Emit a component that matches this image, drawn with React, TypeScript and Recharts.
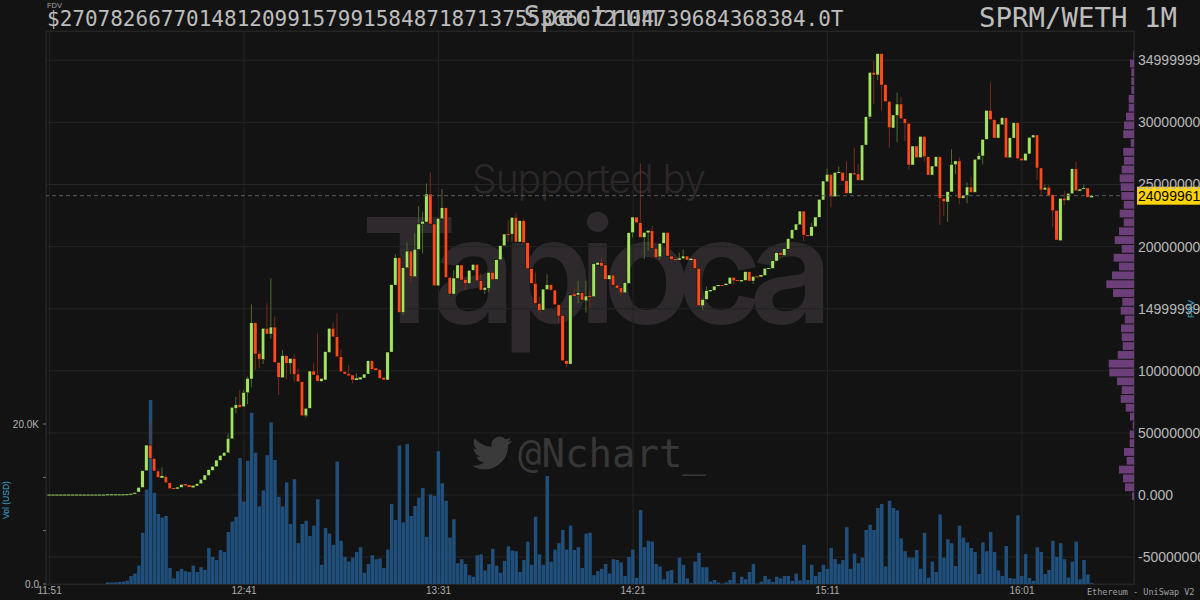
import React from "react";
import { ComposedChart, BarChart, Bar, XAxis, YAxis, CartesianGrid, ReferenceLine } from "recharts";

const W = 1200;
const H = 600;
const BG = "#131313";
const UP = "#a3e263";
const DOWN = "#fb4a1e";

// Candles, in units where the axis tick "34999999…" is 350.
const opens = [
  0.1,0.1,0.1,0.1,0.1,0.1,0.1,0.1,0.1,0.1,
  0.1,0.1,0.1,0.1,0.1,0.2,0.2,0.2,0.2,0.2,
  0.3,0.6,1.0,2.4,6.1,19.6,40.2,29.5,19.3,13.9,
  14.7,9.9,5.6,5.1,6.1,8.8,8.0,6.1,7.2,9.1,
  12.0,15.8,19.8,22.8,27.9,31.4,34.0,45.3,69.8,72.7,
  71.1,82.4,93.4,138.7,114,109.2,134.2,129.6,135.2,106.8,
  94.4,112.2,106,110,97.4,91.2,63.8,69.8,99.8,96.6,
  91.5,92.6,114.8,134.2,127.4,111.3,99.3,97.4,96.6,92.6,
  93.1,94.2,97.4,108.1,102,101.1,94.7,92.6,115.1,169,
  191.1,147,183,196.4,175.8,197.8,218.2,219.8,242.3,218.2,
  168.5,222.5,231.3,175.2,161.8,174.4,185.2,173.6,170.4,180.9,
  185.7,172.5,165,166.4,179.3,173.6,189.4,200.7,210.1,210.1,
  223.5,203.7,220.9,203.1,182.2,170.4,154.3,148.9,165.5,169.3,
  165,153.2,144.6,108.1,105.4,161.5,161,162.9,156.4,160.2,
  159.7,185.2,187.3,185.2,173.6,177.1,169,166.9,162.9,170.4,
  211.2,223.8,219.2,207.4,211.4,212.8,198.6,191.9,202.6,211.4,
  192.4,190,189.4,190.3,192.4,189.2,190.3,182.5,152.4,157.5,
  164,164.8,168.2,169,169,169.9,175.2,173,172,172.8,
  179.8,172.3,176,175.8,176.8,182.2,182.5,188.4,195.1,192.9,
  198,206.4,213.3,217.6,228.6,209.3,208.5,216,223.6,237.5,
  252.3,258.2,240.2,259.5,259.8,253.1,242.9,259,258.5,253.4,
  281.8,304.4,340.3,338.2,355.4,330.4,317,295.5,305.7,314.8,
  303,299.3,265.7,281,271.6,288.8,272.4,257.6,264.4,272.4,
  238.9,235.9,244,266,269,238.9,241.3,248,243.7,270,
  273,286.4,309.7,302.2,287.4,298.2,303.8,271.6,287.4,299.8,
  271.1,269.2,274.6,287.7,289.9,263.3,245.6,247.7,241.8,229.2,
  204.8,238.9,237.3,242.6,262.7,245,246.6,247.2,239.7,
];

const closes = [
  0.3,0.3,0.3,0.3,0.3,0.3,0.3,0.3,0.3,0.3,
  0.3,0.3,0.3,0.3,0.3,0.5,0.5,0.5,0.5,0.5,
  0.6,1.0,1.8,6.1,19.6,40.2,29.5,19.3,14.2,15.3,
  9.9,5.1,5.1,6.1,8.5,7.7,6.4,7.5,9.1,12.6,
  16.1,20.4,23.1,28.1,31.9,34.3,45.6,70.6,72.7,70.6,
  82.6,93.9,138.7,113.5,109.2,134.2,129.6,135.2,106.8,94.7,
  112.2,106,110,97.1,91.2,63.8,69.8,99.8,96.6,91.7,
  93.9,115.4,134.2,127.4,111.3,99.3,97.4,96.3,92.6,93.9,
  94.7,97.4,108.1,101.1,100.6,93.9,92.6,115.1,169.3,191.1,
  147,183,196.4,175.8,197.8,218.2,220.3,242.3,218.2,168.5,
  222.7,231.3,175.2,161.8,174.7,185.2,173.1,170.4,180.9,185.7,
  172.5,165,167.2,179.3,173.3,189.4,200.7,210.1,209.6,223.5,
  203.7,220.9,203.1,182.2,170.4,154.3,148.4,165.8,169.3,165,
  153.2,144.1,108.1,105.4,161,160.2,162.9,157,160.2,159.7,
  186.2,187.3,184.3,173.6,177.1,169,166.4,162.9,170.9,211.2,
  223.8,219.2,207.4,211.4,212.8,198.6,191.3,202.6,211.4,192.4,
  189.7,189.4,190.5,192.4,189.2,190.3,182.5,152.4,157.5,164.5,
  165,168.2,169,168.5,170.1,175.2,172.5,172.5,173,179.8,
  172.3,176,175.5,177.1,182.5,182.7,188.6,195.1,193.2,198.3,
  206.4,213.6,218.2,228.6,209.3,208.5,216,223.8,238.1,252.8,
  258.2,240.2,259.8,260.1,252.8,242.9,259.3,258.2,253.4,281.8,
  304.6,340.3,338.2,355.4,330.1,316.7,295.8,306,314.8,303,
  299.3,265.7,281,271.6,288.8,272.4,257.6,264.9,272.4,238.9,
  236.2,244.2,266.2,269,238.9,241.5,248,243.7,270.3,273.2,
  286.4,309.7,302.2,287.4,298.7,303.8,271.6,287.7,299.8,270.8,
  269.2,275.1,288,289.9,263.3,245.6,247.7,241.3,228.9,205.3,
  238.9,237,242.9,262.7,245,246.1,247.2,239.7,241,
];

// Wicks that reach past the body, by candle number.
const upperWicks: Record<number, number> = {
  26:59,28:20.6,29:22.2,30:16.1,46:49.6,48:79.1,49:84.5,50:84.5,51:95.2,52:153.5,54:116.2,56:154.3,57:174.4,58:143.6,60:116.7,63:113.5,64:102,
  68:106.5,69:130.1,73:138.7,74:146.2,75:117.2,77:104.6,79:97.9,89:193.7,92:203.4,94:210.7,95:232.7,96:228.1,97:250.9,98:259.5,101:246.3,104:181.1,111:178.4,114:180.6,118:221.4,120:226.8,122:222.7,125:179,126:159.7,128:177.6,
  135:167.2,136:172.5,138:172.5,139:164.2,142:191.1,152:267,155:216.6,162:195.1,163:197.8,169:167.7,196:219.2,
  200:263,203:264.4,205:268.4,207:279.7,208:266.5,212:349.4,218:324,219:320.7,232:278.3,234:271.9,236:251.5,237:256.3,239:275.6,242:332,256:250.1,257:249.6,261:244.8,264:268.4,266:250.1,
};
const lowerWicks: Record<number, number> = {
  48:65.7,51:73.2,52:86.7,53:100.6,54:102,55:105.4,57:125.8,59:80.5,61:93.1,62:97.4,63:91.2,66:62.5,
  78:89.9,91:144.9,93:170.9,96:194.6,107:165,112:161.8,113:163.7,118:203.9,119:203.9,126:146.2,131:138.2,133:102.8,
  136:154.3,138:146.8,139:150.3,147:159.7,150:207.4,153:190,154:196.7,157:189.7,168:148.9,176:169.9,181:169.9,194:204.5,
  201:231.6,211:302.7,212:314.8,213:334.1,214:309.5,216:279.7,218:284,220:285,221:262.2,225:268.4,229:217.4,230:224.6,231:220,233:258.5,234:234.3,236:234.8,240:266.2,254:253.6,255:241.5,258:216,261:233.5,
};

// Volume in thousands of USD.
const volumes = [
  0,0,0,0,0,0,0,0,0,0,
  0,0,0,0,0,0.2,0.2,0.2,0.25,0.3,
  0.4,1.0,1.3,2.3,6.4,11.8,23,11.4,8.75,8.3,
  8.5,2.0,0.7,1.6,1.9,1.6,1.5,2.3,1.5,2.1,
  1.75,4.5,3.4,3.0,4.25,4.0,6.5,7.8,8.4,15.75,
  10.3,15.4,21.4,16.4,9.7,11.7,16.1,20.2,15.5,10.9,
  9.7,12.7,7.5,13.1,5.1,7.5,7.9,6.0,7.3,10.6,
  2.4,7.0,6.3,4.9,15.3,5.4,3.4,2.8,3.3,4.0,
  4.6,1.4,2.5,3.6,3.1,3.2,2.0,4.3,10,8.0,
  17.3,7.7,17.5,8.5,9.75,10.8,12,5.9,11.2,11,
  16.6,12.6,10.4,5.8,8.1,2.6,3.1,2.5,1.1,0.9,
  3.6,3.7,1.7,2.5,4.4,2.3,1.4,2.9,4.7,4.2,
  4.1,1.5,3.0,5.3,2.4,8.4,3.7,2.4,13.5,2.8,
  4.3,5.1,6.75,4.3,7.3,4.25,4.6,2.0,6.3,6.4,
  1.1,1.6,1.9,2.5,1.3,3.1,3.0,2.7,1.0,3.4,
  4.3,0.75,9.25,4.6,5.4,5.3,2.5,2.2,0.6,1.6,
  1.75,0.1,3.3,2.4,0.7,0.1,2.8,3.9,2.1,2.1,
  0.3,0.5,0.2,0.05,0.2,0.5,1.5,0.05,0.9,0.6,
  1.5,2.5,0.05,0.3,1,0.6,0.25,0.9,0.7,1.0,
  1.0,0.4,1.3,0.45,4.9,0.5,2.4,1.0,1.5,2.4,
  1.9,4.5,3.1,2.5,3.0,7.1,1.9,3.8,2.6,3.3,
  6.75,7.4,6.75,9.5,10,2.2,10.4,9.5,9.2,5.7,
  4.1,3.3,3.3,4.25,1.9,6.4,0.8,2.8,1.5,8.7,
  3.3,5.6,5.1,2.25,7.3,5.8,5.2,4.5,4,1.25,
  5.2,4.1,6.5,4,1.7,1.0,4.75,0.75,0.67,8.6,
  1,3.75,0.75,0.4,4.6,4,1.25,1.75,5.4,3.4,
  5.1,3.1,0.8,2.8,5.3,0.6,3,1.2,0.1,
];

// Volume profile: price level of each bin and the traded amount in it, lowest bin first.
const profilePrices = [
  -0.6,6.5,13.7,20.8,27.9,35,42.1,49.2,56.3,63.4,
  70.5,77.6,84.8,91.9,99,106.1,113.2,120.3,127.4,134.5,
  141.6,148.7,155.9,163,170.1,177.2,184.3,191.4,198.5,205.6,
  212.7,219.8,227,234.1,241.2,248.3,255.4,262.5,269.6,276.7,
  283.8,290.9,298.1,305.2,312.3,319.4,326.5,333.6,340.7,347.8,354.9,
];
const profileAmounts = [
  2,9,11,15,7.3,10,4.3,4.3,1.3,4,
  8.3,13.3,12.3,17,24.7,25.3,16.3,11.3,12.3,13,
  9.3,13.3,11.7,21,27.7,22,15,20.3,12.3,19.3,
  15,10.3,14.3,10.3,12.7,13.3,14.3,12.3,10,10.7,
  3.3,10.7,10,8,5.3,5.3,2.7,2.7,2.7,4,0.7,
];

const priceTicks = [-50, 0, 50, 100, 150, 200, 250, 300, 350];
const priceTickLabels = [
  "-50000000000", "0.000", "500000000000", "1000000000000", "1499999999999",
  "2000000000000", "2500000000000", "3000000000000", "3499999999999",
];
const lastPrice = 241;
const lastPriceLabel = "2409996100000";
const volTicks = [0, 6.67, 13.33, 20];
const volTickLabels = ["0.0", "", "", "20.0K"];
const timeTicks = [0, 50, 100, 150, 200, 250];
const timeLabels = ["11:51", "12:41", "13:31", "14:21", "15:11", "16:01"];

const fdvText = "$27078266770148120991579915848718713755366072104739684368384.0T";

const rows = opens.map((open, i) => {
  const close = closes[i];
  const high = upperWicks[i] ?? Math.max(open, close);
  const low = lowerWicks[i] ?? Math.min(open, close);
  return { i, open, close, high, low, range: [low, high], volume: volumes[i] };
});
const profileRows = profilePrices.map((price, k) => ({ price: String(price), amount: profileAmounts[k] }));

const plot = { left: 46, right: 66, top: 31, bottom: 16 };
const priceDomain: [number, number] = [-71.66, 373.6];
const slotDomain: [number, number] = [-0.925, 278.8];

function Candle(props: any) {
  const { x, y, width, height, payload } = props;
  const { open, close, high, low } = payload;
  const perUnit = height / (high - low);
  const yOf = (v: number) => y + (high - v) * perUnit;
  const cx = x + width / 2;
  const up = close >= open;
  const top = yOf(Math.max(open, close));
  const bottom = yOf(Math.min(open, close));
  const colour = up ? UP : DOWN;
  const bodyH = Math.max(bottom - top, 0.9);
  return (
    <g>
      <line x1={cx} x2={cx} y1={y} y2={y + height} stroke={up ? "#4d6e2e" : "#7a2c18"} strokeWidth={1} />
      <rect x={cx - 1.7} y={top} width={3.4} height={bodyH} fill={colour} stroke={bodyH > 2 ? "#000" : "none"} strokeWidth={0.4} />
    </g>
  );
}

function PriceTag(props: any) {
  const { viewBox } = props;
  const right = viewBox.x + viewBox.width;
  return (
    <g>
      <rect x={right + 3} y={viewBox.y - 9} width={70} height={18} fill="#ffd400" />
      <text x={right + 4} y={viewBox.y + 5} fontSize={14} fontFamily="'Liberation Sans'" fill="#000">{lastPriceLabel}</text>
    </g>
  );
}

export default function App() {
  const mono = "'DejaVu Sans Mono'";
  const layer: React.CSSProperties = { position: "absolute", left: 0, top: 0 };
  return (
    <div style={{ position: "absolute", left: 0, top: 0, width: W, height: H, background: BG, overflow: "hidden" }}>
      <svg width={W} height={H} style={layer}>
        <rect x={46.5} y={31.5} width={1088} height={553} fill="none" stroke="#242424" />
        <text x={472} y={193} fontSize={39} fontFamily="Inter" fontWeight={300} fill="#2c2829" textLength={234}>Supported by</text>
        <text x={361} y={323} fontSize={146} fontFamily="Inter" fontWeight={600} fill="#2d292c" textLength={472}>Tapioca</text>
        <g transform="translate(472,433) scale(1.67)" fill="#3a3a3a">
          <path d="M23.953 4.57a10 10 0 01-2.825.775 4.958 4.958 0 002.163-2.723c-.951.555-2.005.959-3.127 1.184a4.92 4.92 0 00-8.384 4.482C7.69 8.095 4.067 6.13 1.64 3.162a4.822 4.822 0 00-.666 2.475c0 1.71.87 3.213 2.188 4.096a4.904 4.904 0 01-2.228-.616v.06a4.923 4.923 0 003.946 4.827 4.996 4.996 0 01-2.212.085 4.936 4.936 0 004.604 3.417 9.867 9.867 0 01-6.102 2.105c-.39 0-.779-.023-1.17-.067a13.995 13.995 0 007.557 2.209c9.053 0 13.998-7.496 13.998-13.985 0-.21 0-.42-.015-.63A9.935 9.935 0 0024 4.59z" />
        </g>
        <text x={518} y={467} fontSize={39} fontFamily={mono} fill="#373737">@Nchart_</text>
      </svg>

      <div style={layer}>
        <ComposedChart width={W} height={H} data={rows} margin={{ left: 0, right: 0, top: plot.top, bottom: 0 }} barGap={0}>
          <CartesianGrid xAxisId="slots" yAxisId="price" stroke="#242424" strokeWidth={1} />
          <XAxis
            xAxisId="slots" type="number" dataKey="i" domain={slotDomain} allowDataOverflow ticks={timeTicks} interval={0}
            height={plot.bottom} axisLine={false} tickLine={false} tickSize={0} tickMargin={3}
            tick={{ fontSize: 10, fill: "#ababab", fontFamily: "'Liberation Sans'" }}
            tickFormatter={(v: number) => timeLabels[timeTicks.indexOf(v)] ?? ""}
          />
          <XAxis xAxisId="volSlots" type="number" dataKey="i" domain={slotDomain} allowDataOverflow hide />
          <YAxis
            yAxisId="vol" orientation="left" width={plot.left} domain={[0, 69.125]} allowDataOverflow ticks={volTicks} interval={0}
            axisLine={false} tickSize={3} tickMargin={4} tickLine={{ stroke: "#777" }}
            tick={{ fontSize: 10, fill: "#b4b4b4", fontFamily: "'Liberation Sans'" }}
            tickFormatter={(v: number) => volTickLabels[volTicks.indexOf(v)] ?? ""}
          />
          <YAxis
            yAxisId="price" orientation="right" width={plot.right} domain={priceDomain} allowDataOverflow ticks={priceTicks} interval={0}
            axisLine={false} tickLine={false} tickSize={0} tickMargin={4} textAnchor="start"
            tick={{ fontSize: 14, fill: "#b9b9b9", fontFamily: "'Liberation Sans'" }}
            tickFormatter={(v: number) => priceTickLabels[priceTicks.indexOf(v)] ?? ""}
          />
          <Bar xAxisId="volSlots" yAxisId="vol" dataKey="volume" barSize={3.5} fill="#1f4f7a" isAnimationActive={false} />
          <ReferenceLine
            xAxisId="slots" yAxisId="price" y={lastPrice} stroke="#5c5c5c" strokeDasharray="4 3" strokeWidth={1}
            label={<PriceTag />}
          />
          <Bar xAxisId="slots" yAxisId="price" dataKey="range" barSize={3} shape={<Candle />} isAnimationActive={false} />
        </ComposedChart>
      </div>

      <div style={{ ...layer, pointerEvents: "none" }}>
        <BarChart
          width={W} height={H} data={profileRows} layout="vertical" barCategoryGap={0}
          margin={{ left: plot.left, right: plot.right, top: 49.8, bottom: 100 }}
        >
          <XAxis type="number" domain={[0, 1088]} reversed hide />
          <YAxis type="category" dataKey="price" reversed hide />
          <Bar dataKey="amount" barSize={7.8} fill="#6d3f7a" isAnimationActive={false} />
        </BarChart>
      </div>

      <svg width={W} height={H} style={{ ...layer, pointerEvents: "none" }}>
        <text x={47} y={8} fontSize={7.5} fontFamily="'Liberation Sans'" fill="#a8a8a8">FDV</text>
        <text x={47} y={26} fontSize={21} fontFamily={mono} fill="#bdbdbd">{fdvText}</text>
        <text x={591} y={26} fontSize={28} fontFamily={mono} fill="#b5b5b5" textAnchor="middle">Spectrum</text>
        <text x={979} y={27} fontSize={27.4} fontFamily={mono} fill="#bdbdbd">SPRM/WETH 1M</text>
        <text x={1087} y={595} fontSize={8.5} fontFamily={mono} fill="#a0a0a0">Ethereum - UniSwap V2</text>
        <text transform="translate(9,500) rotate(-90)" fontSize={8.5} fontFamily="'Liberation Sans'" fill="#3ea6d0" textAnchor="middle">Vol (USD)</text>
        <text transform="translate(1194,309) rotate(-90)" fontSize={9} fontFamily="'Liberation Sans'" fill="#3ea6d0" textAnchor="middle">FDV</text>
      </svg>
    </div>
  );
}
